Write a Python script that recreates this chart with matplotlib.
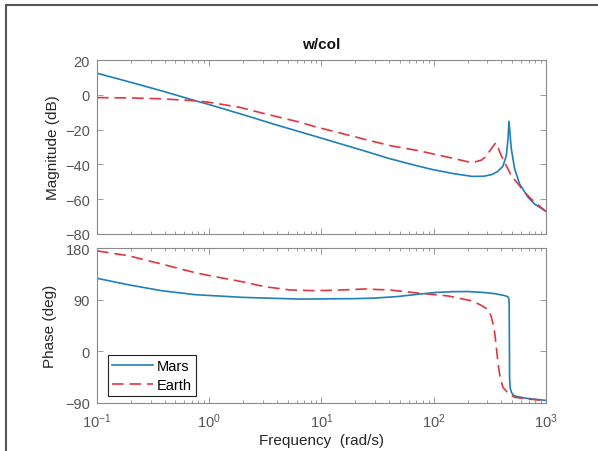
import matplotlib
matplotlib.use("Agg")
import matplotlib.pyplot as plt
from matplotlib.lines import Line2D
from matplotlib.ticker import LogLocator, NullFormatter

plt.rcParams["font.family"] = ["Liberation Sans", "DejaVu Sans"]
plt.rcParams["mathtext.fontset"] = "custom"
plt.rcParams["mathtext.rm"] = "Liberation Sans"
plt.rcParams["mathtext.it"] = "Liberation Sans:italic"

# Magnitude response (rad/s, dB)
mars_mag_w = [0.1, 0.2, 0.4, 0.75, 1.0, 2.0, 4.0, 8.75, 15.0, 24.0, 40.0, 60.0,
              95.0, 150.0, 220.0, 280.0, 330.0, 373.0, 414.0, 443.0, 459.0,
              468.0, 491.0, 526.0, 583.0, 692.0, 793.0, 1000.0]
mars_mag_db = [12.4, 7.2, 1.8, -3.4, -5.6, -11.4, -17.4, -23.8, -28.3, -32.2,
               -36.6, -39.6, -42.8, -45.3, -46.9, -46.8, -45.8, -44.0, -41.0,
               -35.0, -25.4, -15.2, -31.0, -42.6, -51.3, -58.9, -62.8, -67.0]

earth_mag_w = [0.1, 0.2, 0.37, 0.75, 1.0, 1.88, 3.0, 6.2, 8.75, 24.0, 40.8, 72.8,
               144.0, 202.0, 233.0, 267.0, 286.0, 317.0, 349.0, 360.0, 400.0,
               491.0, 566.0, 646.0, 766.0, 1000.0]
earth_mag_db = [-1.6, -1.8, -2.3, -3.4, -4.3, -7.2, -10.6, -15.5, -18.3, -25.5,
                -29.2, -32.1, -36.3, -38.5, -38.6, -37.5, -35.9, -32.1, -28.3,
                -27.7, -35.0, -46.5, -51.3, -56.0, -60.9, -67.0]

# Phase response (rad/s, deg)
mars_ph_w = [0.1, 0.19, 0.377, 0.75, 2.0, 6.4, 20.0, 30.0, 48.0, 73.0, 103.0,
             150.0, 200.0, 280.0, 349.0, 420.0, 447.0, 462.0, 468.0, 470.0,
             472.0, 474.0, 480.0, 494.0, 520.0, 650.0, 1000.0]
mars_ph_deg = [127.2, 116.0, 105.6, 98.7, 94.0, 91.0, 91.8, 92.8, 95.5, 99.5,
               102.5, 104.0, 104.2, 102.5, 100.5, 97.5, 96.0, 94.0, 90.0, 80.0,
               20.0, -45.0, -64.0, -72.0, -77.5, -81.5, -85.5]

earth_ph_w = [0.1, 0.19, 0.377, 0.75, 1.0, 2.0, 3.13, 5.2, 8.75, 14.6, 24.3, 40.8,
              72.8, 134.0, 218.0, 260.0, 304.0, 324.0, 340.0, 349.0, 360.0,
              373.0, 390.0, 414.0, 461.0, 526.0, 650.0, 1000.0]
earth_ph_deg = [175.0, 166.6, 152.0, 137.0, 132.0, 121.0, 112.6, 107.0, 105.6,
                106.8, 108.6, 106.8, 101.5, 96.5, 88.0, 81.0, 73.0, 62.0, 45.0,
                33.0, 10.0, -19.0, -45.0, -63.0, -73.0, -80.0, -82.5, -86.0]

series_names = ["Mars", "Earth"]
mag_ticks = [-80, -60, -40, -20, 0, 20]
phase_ticks = [-90, 0, 90, 180]

MARS_C = "#1f7fb8"
EARTH_C = "#e0363f"
AX_C = "#8a8a8a"
TICK_TXT = "#555555"
LABEL_TXT = "#262626"

fig = plt.figure(figsize=(5.98, 4.52), dpi=100)
fig.patch.set_facecolor("white")

ax_mag = fig.add_axes([0.1622, 0.4801, 0.7508, 0.3849])
ax_ph = fig.add_axes([0.1622, 0.1062, 0.7508, 0.3429])

dash = (0, (7, 3.5))
ax_mag.plot(mars_mag_w, mars_mag_db, color=MARS_C, lw=1.2, label=series_names[0])
ax_mag.plot(earth_mag_w, earth_mag_db, color=EARTH_C, lw=1.2, linestyle=dash,
            label=series_names[1])
ax_ph.plot(mars_ph_w, mars_ph_deg, color=MARS_C, lw=1.2, label=series_names[0])
ax_ph.plot(earth_ph_w, earth_ph_deg, color=EARTH_C, lw=1.2, linestyle=dash,
           label=series_names[1])

for ax in (ax_mag, ax_ph):
    ax.set_xscale("log")
    ax.set_xlim(0.1, 1000)
    ax.xaxis.set_major_locator(LogLocator(base=10, numticks=10))
    ax.xaxis.set_minor_locator(LogLocator(base=10, subs=range(2, 10), numticks=20))
    ax.xaxis.set_minor_formatter(NullFormatter())
    ax.tick_params(which="both", direction="in", top=True, right=True,
                   color=AX_C, labelcolor=TICK_TXT, labelsize=10.5, width=0.6)
    ax.tick_params(which="major", length=4)
    ax.tick_params(which="minor", length=2.2)
    ax.tick_params(axis="y", pad=5)
    for sp in ax.spines.values():
        sp.set_color(AX_C)
        sp.set_linewidth(0.8)

ax_mag.set_ylim(-80, 20)
ax_mag.set_yticks(mag_ticks)
ax_mag.tick_params(labelbottom=False)
ax_mag.set_ylabel("Magnitude (dB)", fontsize=11, color=LABEL_TXT, labelpad=4)
ax_mag.set_title("w/col", fontsize=11, fontweight="bold", color="#111111", pad=9)

ax_ph.set_ylim(-90, 180)
ax_ph.set_yticks(phase_ticks)
ax_ph.tick_params(axis="x", which="major", pad=6)
ax_ph.set_ylabel("Phase (deg)", fontsize=11, color=LABEL_TXT, labelpad=6)
ax_ph.set_xlabel("Frequency  (rad/s)", fontsize=11, color=LABEL_TXT, labelpad=2)

leg = ax_ph.legend(loc="lower left", bbox_to_anchor=(0.024, 0.045),
                   borderaxespad=0, fancybox=False, framealpha=1,
                   edgecolor="#222222", fontsize=10.5, handlelength=2.8,
                   handletextpad=0.25, borderpad=0.3, labelspacing=0.3)
leg.get_frame().set_linewidth(0.8)

# window frame along the left and top edges
fig.add_artist(Line2D([6 / 598, 6 / 598], [0, 1 - 6 / 452], color="#555555",
                      lw=1.5, transform=fig.transFigure))
fig.add_artist(Line2D([6 / 598, 1], [1 - 6 / 452, 1 - 6 / 452], color="#555555",
                      lw=1.5, transform=fig.transFigure))

fig.savefig("out.png", dpi=100, facecolor="white")
